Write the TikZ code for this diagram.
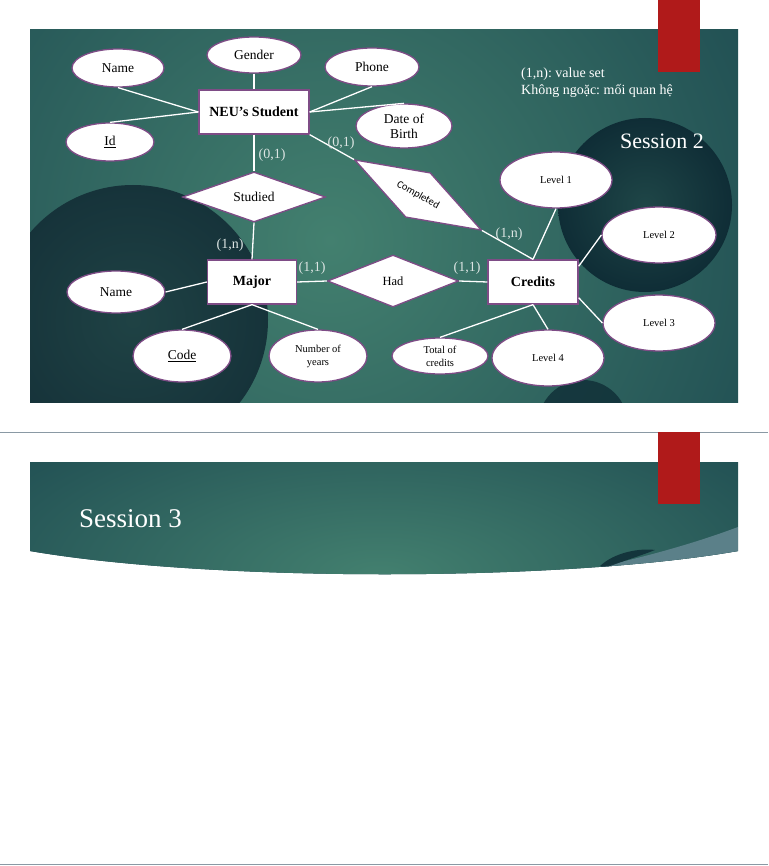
\documentclass[tikz,border=0pt]{standalone}
\usepackage{fontspec}
\setmainfont{Liberation Serif}
\newfontfamily\calibfont{Carlito}
\usepackage{tikz}
\usetikzlibrary{shapes.geometric, positioning}
\definecolor{slidedark}{HTML}{123A47}
\definecolor{slidemid}{HTML}{43806F}
\definecolor{orbdark}{HTML}{16333A}
\definecolor{orbdeep}{HTML}{0F2D36}
\definecolor{tabred}{HTML}{B01A1A}
\definecolor{edgepurple}{HTML}{7E4C86}
\definecolor{cardgray}{HTML}{DCE5E3}
\definecolor{rulegray}{HTML}{8A99A4}
\definecolor{swoosh}{HTML}{5B8089}
\frenchspacing

\begin{document}
\begin{tikzpicture}[x=1pt, y=-1pt,
  entbox/.style = {draw=edgepurple, fill=white, line width=1.3pt, minimum height=44pt, inner sep=0pt, font=\fontsize{14}{16}\selectfont\bfseries},
  attr/.style   = {ellipse, draw=edgepurple, fill=white, line width=1.3pt, inner sep=0pt, align=center, font=\fontsize{13.5}{15}\selectfont},
  attrsm/.style = {attr, font=\fontsize{10.5}{13}\selectfont},
  rel/.style    = {diamond, draw=edgepurple, fill=white, line width=1.3pt, inner sep=0pt, shape aspect=2.8, font=\fontsize{13.5}{15}\selectfont},
  conn/.style   = {draw=white, line width=1.3pt},
  card/.style   = {text=cardgray, inner sep=0pt, font=\fontsize{14}{16}\selectfont},
  tab/.style    = {fill=tabred},
]
\useasboundingbox (0,0) rectangle (768,866);
\fill[white] (0,0) rectangle (768,866);
% slide 2 background
\begin{scope}
\clip (30,30) rectangle (738,402);
\fill[slidedark] (30,30) rectangle (738,402);
\shade[inner color=slidemid, outer color=slidedark] (330,240) circle (680);
\shade[inner color=orbdark!80!slidemid, outer color=orbdark] (133,320) circle (135);
\shade[inner color=orbdeep!70!slidemid, outer color=orbdeep] (645,205) circle (87);
\fill[orbdeep, opacity=0.8] (583,425) circle (45);
\end{scope}
\fill[tab] (658,0) rectangle (700,72);
\node[text=white, anchor=west, align=left, inner sep=0pt, font=\fontsize{14}{17}\selectfont] (legend) at (521,83) {(1,n): value set\\Không ngoặc: mối quan hệ};
\node[text=white, inner sep=0pt, font=\fontsize{22}{24}\selectfont] (sess2) at (662,141) {Session 2};

\node[entbox, minimum width=110pt] (stud) at (254,112) {NEU's Student};
\node[entbox, minimum width=89pt] (major) at (252,282) {Major};
\node[entbox, minimum width=90pt] (cred) at (533,282) {Credits};

\node[attr, minimum width=92pt, minimum height=38pt] (sname) at (118,68) {Name};
\node[attr, minimum width=94pt, minimum height=36pt] (gender) at (254,55) {Gender};
\node[attr, minimum width=94pt, minimum height=38pt] (phone) at (372,67) {Phone};
\node[attr, minimum width=96pt, minimum height=44pt] (dob) at (404,126) {Date of\\Birth};
\node[attr, minimum width=88pt, minimum height=38pt] (sid) at (110,142) {\underline{Id}};
\node[attr, minimum width=98pt, minimum height=42pt] (mname) at (116,292) {Name};
\node[attr, minimum width=98pt, minimum height=52pt] (code) at (182,356) {\underline{Code}};
\node[attrsm, minimum width=98pt, minimum height=52pt] (years) at (318,356) {Number of\\years};
\node[attrsm, minimum width=96pt, minimum height=36pt] (total) at (440,356) {Total of\\credits};
\node[attrsm, minimum width=112pt, minimum height=56pt] (lev1) at (556,180) {Level 1};
\node[attrsm, minimum width=114pt, minimum height=56pt] (lev2) at (659,235) {Level 2};
\node[attrsm, minimum width=112pt, minimum height=56pt] (lev3) at (659,323) {Level 3};
\node[attrsm, minimum width=112pt, minimum height=56pt] (lev4) at (548,358) {Level 4};

\node[rel, minimum width=143pt, minimum height=50pt] (studied) at (254,197) {Studied};
\node[rel, minimum width=131pt, minimum height=52pt, font=\fontsize{12.5}{14}\selectfont] (had) at (393,281) {Had};
\node[rel, minimum width=145pt, minimum height=51pt, rotate=-29, font=\calibfont\fontsize{10.5}{12}\selectfont] (compl) at (418,195) {Completed};

\draw[conn] (sname.south) -- (stud.west);
\draw[conn] (sid.north) -- (stud.west);
\draw[conn] (gender.south) -- (stud.north);
\draw[conn] (phone.south) -- (stud.east);
\draw[conn] (stud.east) -- (dob.north);
\draw[conn] (stud.south) -- (studied.north);
\draw[conn] (studied.south) -- (major.north);
\draw[conn] (stud.south east) -- (compl.west);
\draw[conn] (compl.east) -- (cred.north);
\draw[conn] (major.east) -- (had.west);
\draw[conn] (had.east) -- (cred.west);
\draw[conn] (mname.east) -- (major.west);
\draw[conn] (major.south) -- (code.north);
\draw[conn] (major.south) -- (years.north);
\draw[conn] (cred.north) -- (lev1.south);
\draw[conn] (cred.19) -- (lev2.west);
\draw[conn] (cred.-19) -- (lev3.west);
\draw[conn] (cred.south) -- (lev4.north);
\draw[conn] (cred.south) -- (total.north);

\node[card] (kstud) at (272,155) {(0,1)};
\node[card] (kmaj) at (230,245) {(1,n)};
\node[card] (kcomp) at (341,143) {(0,1)};
\node[card] (kcred) at (509,234) {(1,n)};
\node[card] (khadl) at (312,268) {(1,1)};
\node[card] (khadr) at (467,268) {(1,1)};

% slide 3
\draw[rulegray, line width=1pt] (0,432) -- (768,432);
\begin{scope}
\clip (30,462) -- (738,462) -- (738,551) .. controls (560,582) and (210,582) .. (30,551) -- cycle;
\fill[slidedark] (30,462) rectangle (738,600);
\shade[inner color=slidemid, outer color=slidedark] (380,575) ellipse (680 and 280);
\fill[swoosh] (738,527) .. controls (690,545) and (640,558) .. (595,568) -- (738,568) -- cycle;
\fill[orbdeep, opacity=0.85] (600,566) .. controls (615,552) and (640,548) .. (655,550) .. controls (640,556) and (620,562) .. (605,568) -- cycle;
\end{scope}
\fill[tab] (658,432) rectangle (700,504);
\node[text=white, inner sep=0pt, anchor=west, font=\fontsize{27}{29}\selectfont] (sess3) at (79,519) {Session 3};
\draw[rulegray, line width=1pt] (0,864.5) -- (768,864.5);
\end{tikzpicture}
\end{document}
